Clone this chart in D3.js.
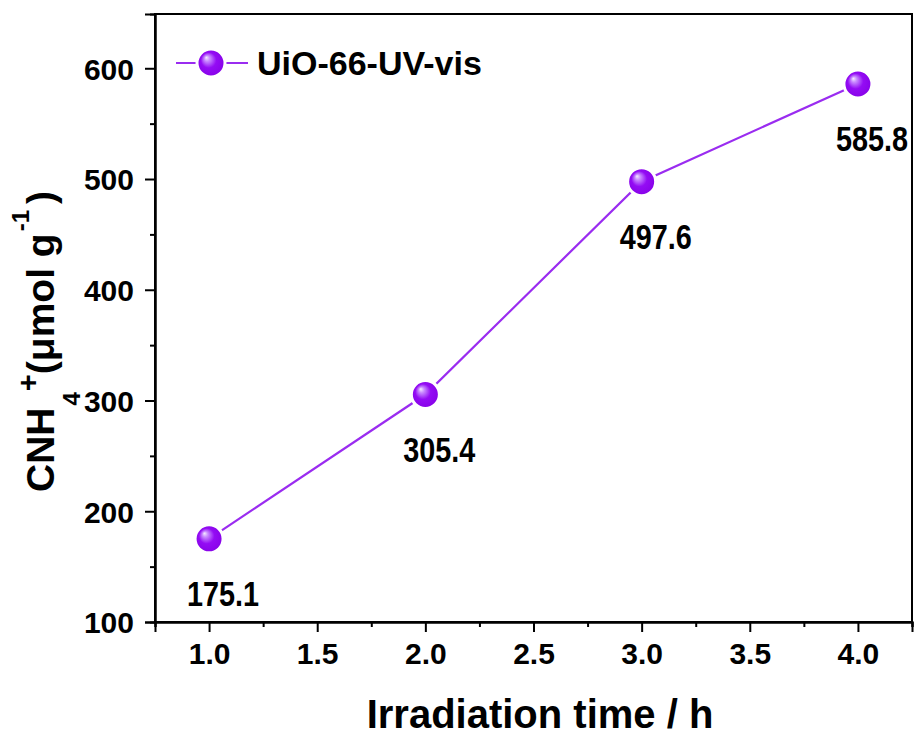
<!DOCTYPE html>
<html>
<head>
<meta charset="utf-8">
<script src="https://cdn.jsdelivr.net/npm/d3@7"></script>
<style>
  html, body { margin: 0; padding: 0; background: #fff; }
  svg { display: block; }
  text { font-family: "Liberation Sans", Arial, sans-serif; font-weight: bold; fill: #000; }
</style>
</head>
<body>
<svg id="chart" width="916" height="738"></svg>
<script>
// Irradiation time (h) and NH4+ yield (μmol g-1)
const times = [1.0, 2.0, 3.0, 4.0];
const yields = [175.1, 305.4, 497.6, 585.8];
const seriesName = "UiO-66-UV-vis";
const xTicks = [1.0, 1.5, 2.0, 2.5, 3.0, 3.5, 4.0];
const xMinorTicks = [0.75, 1.25, 1.75, 2.25, 2.75, 3.25, 3.75, 4.25];
const yTicks = [100, 200, 300, 400, 500, 600];
const yMinorTicks = [150, 250, 350, 450, 550];

const svg = d3.select("#chart");
const m = { left: 155, right: 912, top: 14, bottom: 622 };

const x = d3.scaleLinear().domain([0.75, 4.25]).range([m.left, m.right]);
const y = d3.scaleLinear().domain([100, 649]).range([m.bottom, m.top]);

const lineColor = "#9a2cf0";
const FONT = "Liberation Sans, Arial, sans-serif";

// glossy sphere fill for the markers
const defs = svg.append("defs");
const grad = defs.append("radialGradient").attr("id", "sphere")
  .attr("cx", "0.5").attr("cy", "0.5").attr("r", "0.55")
  .attr("fx", "0.33").attr("fy", "0.3");
grad.append("stop").attr("offset", "0%").attr("stop-color", "#f6ecff");
grad.append("stop").attr("offset", "18%").attr("stop-color", "#c98cff");
grad.append("stop").attr("offset", "50%").attr("stop-color", "#940cf4");
grad.append("stop").attr("offset", "100%").attr("stop-color", "#8500e6");

// frame
svg.append("rect")
  .attr("x", m.left).attr("y", m.top)
  .attr("width", m.right - m.left).attr("height", m.bottom - m.top)
  .attr("fill", "none").attr("stroke", "#000").attr("stroke-width", 2);

// bottom axis, outward ticks
const xAxis = svg.append("g").attr("transform", `translate(0,${m.bottom})`)
  .call(d3.axisBottom(x).tickValues(xTicks).tickFormat(d3.format(".1f")).tickSize(10).tickPadding(11));
const xMinor = svg.append("g").attr("transform", `translate(0,${m.bottom})`)
  .call(d3.axisBottom(x).tickValues(xMinorTicks).tickFormat("").tickSize(5));

// left axis, outward ticks
const yAxis = svg.append("g").attr("transform", `translate(${m.left},0)`)
  .call(d3.axisLeft(y).tickValues(yTicks).tickSize(10).tickPadding(11));
const yMinor = svg.append("g").attr("transform", `translate(${m.left},0)`)
  .call(d3.axisLeft(y).tickValues(yMinorTicks).tickFormat("").tickSize(5));

[xAxis, xMinor, yAxis, yMinor].forEach(g => {
  g.select(".domain").attr("stroke", "#000").attr("stroke-width", 2);
  g.selectAll(".tick line").attr("stroke", "#000").attr("stroke-width", 2);
  g.selectAll(".tick text")
    .style("font-size", "30px").style("font-family", FONT).style("font-weight", "bold");
});
yAxis.selectAll(".tick text").attr("dy", "0.36em");

// data line
const pts = times.map((t, i) => [t, yields[i]]);
svg.append("path")
  .datum(pts)
  .attr("d", d3.line().x(d => x(d[0])).y(d => y(d[1])))
  .attr("fill", "none").attr("stroke", lineColor).attr("stroke-width", 2.2);

// markers
svg.selectAll("circle.pt").data(pts).join("circle")
  .attr("class", "pt")
  .attr("cx", d => x(d[0])).attr("cy", d => y(d[1])).attr("r", 14)
  .attr("fill", "url(#sphere)").attr("stroke", "#fff").attr("stroke-width", 3);

// value labels under each point (slightly condensed bold)
svg.selectAll("text.val").data(pts).join("text")
  .attr("class", "val")
  .attr("transform", d => `translate(${x(d[0]) + 14},${y(d[1]) + 67}) scale(0.8,1)`)
  .attr("text-anchor", "middle")
  .style("font-size", "36px")
  .text(d => d[1].toFixed(1));

// legend
const lg = svg.append("g");
lg.append("line").attr("x1", 176).attr("x2", 248).attr("y1", 63).attr("y2", 63)
  .attr("stroke", lineColor).attr("stroke-width", 2.2);
lg.append("circle").attr("cx", 211).attr("cy", 63).attr("r", 14)
  .attr("fill", "url(#sphere)").attr("stroke", "#fff").attr("stroke-width", 3);
lg.append("text").attr("x", 257).attr("y", 75).style("font-size", "34px").text(seriesName);

// axis titles
svg.append("text").attr("x", 540).attr("y", 728).attr("text-anchor", "middle")
  .style("font-size", "40px").text("Irradiation time / h");

const yt = svg.append("text")
  .attr("transform", "translate(54,492) rotate(-90)")
  .attr("text-anchor", "start")
  .style("font-size", "39px");
yt.append("tspan").text("CNH");
yt.append("tspan").attr("dx", 2).attr("dy", 26).style("font-size", "24px").text("4");
yt.append("tspan").attr("dx", 1).attr("dy", -42).style("font-size", "29px").text("+");
yt.append("tspan").attr("dx", 0).attr("dy", 16).text("(μmol g");
yt.append("tspan").attr("dx", 2).attr("dy", -25).style("font-size", "24px").text("-1");
yt.append("tspan").attr("dx", 6).attr("dy", 25).text(")");
</script>
</body>
</html>
